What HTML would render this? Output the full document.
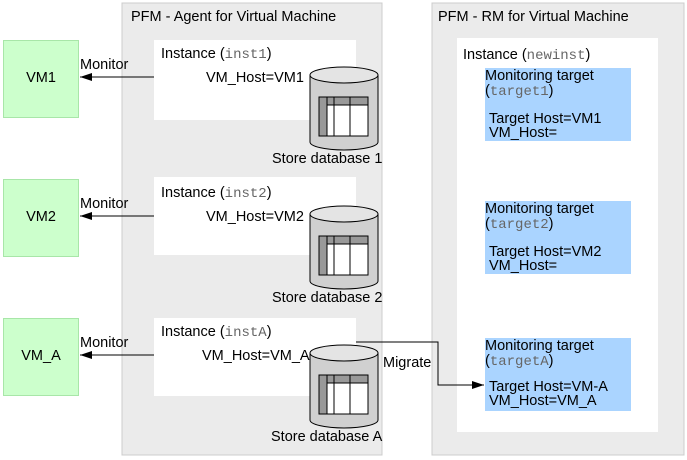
<!DOCTYPE html>
<html><head><style>body{margin:0;background:#fff}svg{display:block}text{font-family:"Liberation Sans",sans-serif;font-size:14.5px;fill:#000}.m{font-family:"Liberation Mono",monospace;fill:#666;font-size:14px}</style></head><body>
<svg width="687" height="460" viewBox="0 0 687 460" xmlns="http://www.w3.org/2000/svg">
<defs>
<marker id="ar" markerWidth="12" markerHeight="8" refX="12" refY="4" orient="auto" markerUnits="userSpaceOnUse"><path d="M0,0 L12,4 L0,8 z" fill="#000"/></marker>
<g id="cyl">
<path d="M310,75 L310,142 A34,8 0 0 0 378,142 L378,75" fill="#d0d0d0" stroke="#000"/>
<ellipse cx="344" cy="75" rx="34" ry="8" fill="#e4e4e4" stroke="#000"/>
<rect x="319" y="97" width="49" height="39" fill="#fff" stroke="#000"/>
<rect x="319" y="97" width="49" height="8" fill="#999" stroke="#000"/>
<rect x="319" y="97" width="8" height="39" fill="#999" stroke="#000"/>
<line x1="334" y1="97" x2="334" y2="136" stroke="#000"/>
<line x1="350" y1="97" x2="350" y2="136" stroke="#000"/>
</g>
</defs>
<rect x="122" y="3" width="260" height="452" fill="#ebebeb" stroke="#ccc"/>
<rect x="432" y="3" width="252" height="452" fill="#ebebeb" stroke="#ccc"/>
<text x="131" y="21">PFM - Agent for Virtual Machine</text>
<text x="438" y="21">PFM - RM for Virtual Machine</text>
<rect x="457" y="38" width="201" height="394" fill="#fff"/>
<text x="463" y="59">Instance (<tspan class="m">newinst</tspan>)</text>
<g id="row">
<rect x="3.5" y="40.5" width="75" height="77" fill="#ccffcc" stroke="#a8e6a8"/>
<text x="41" y="82" text-anchor="middle">VM1</text>
<text x="80" y="69">Monitor</text>
<line x1="154" y1="77" x2="80" y2="77" stroke="#000" marker-end="url(#ar)"/>
<rect x="154" y="40" width="202" height="80" fill="#fff"/>
<text x="161" y="58">Instance (<tspan class="m">inst1</tspan>)</text>
<text x="206" y="82">VM_Host=VM1</text>
<use href="#cyl"/>
<text x="272" y="163">Store database 1</text>
<rect x="485" y="68" width="146" height="73" fill="#aad4ff"/>
<text x="485" y="80">Monitoring target</text>
<text x="485" y="95">(<tspan class="m">target1</tspan>)</text>
<text x="489" y="123">Target Host=VM1</text>
<text x="489" y="137">VM_Host=</text>
</g>
<g transform="translate(0,139)">
<rect x="3.5" y="40.5" width="75" height="77" fill="#ccffcc" stroke="#a8e6a8"/>
<text x="41" y="82" text-anchor="middle">VM2</text>
<text x="80" y="69">Monitor</text>
<line x1="154" y1="77" x2="80" y2="77" stroke="#000" marker-end="url(#ar)"/>
<rect x="154" y="38" width="202" height="78" fill="#fff"/>
<text x="161" y="58">Instance (<tspan class="m">inst2</tspan>)</text>
<text x="206" y="82">VM_Host=VM2</text>
<use href="#cyl"/>
<text x="272" y="163">Store database 2</text>
<rect x="485" y="62" width="146" height="73" fill="#aad4ff"/>
<text x="485" y="74">Monitoring target</text>
<text x="485" y="89">(<tspan class="m">target2</tspan>)</text>
<text x="489" y="117">Target Host=VM2</text>
<text x="489" y="131">VM_Host=</text>
</g>
<g transform="translate(0,278)">
<rect x="3.5" y="40.5" width="75" height="77" fill="#ccffcc" stroke="#a8e6a8"/>
<text x="41" y="82" text-anchor="middle">VM_A</text>
<text x="80" y="69">Monitor</text>
<line x1="154" y1="77" x2="80" y2="77" stroke="#000" marker-end="url(#ar)"/>
<rect x="154" y="40" width="202" height="78" fill="#fff"/>
<text x="161" y="58">Instance (<tspan class="m">instA</tspan>)</text>
<text x="202" y="82">VM_Host=VM_A</text>
<use href="#cyl"/>
<text x="271" y="163">Store database A</text>
<rect x="485" y="60" width="146" height="73" fill="#aad4ff"/>
<text x="485" y="72">Monitoring target</text>
<text x="485" y="87">(<tspan class="m">targetA</tspan>)</text>
<text x="489" y="113">Target Host=VM-A</text>
<text x="489" y="127">VM_Host=VM_A</text>
<text x="383" y="89">Migrate</text>
<polyline points="356,64 438,64 438,107 484,107" fill="none" stroke="#000" marker-end="url(#ar)"/>
</g>
</svg>
</body></html>
